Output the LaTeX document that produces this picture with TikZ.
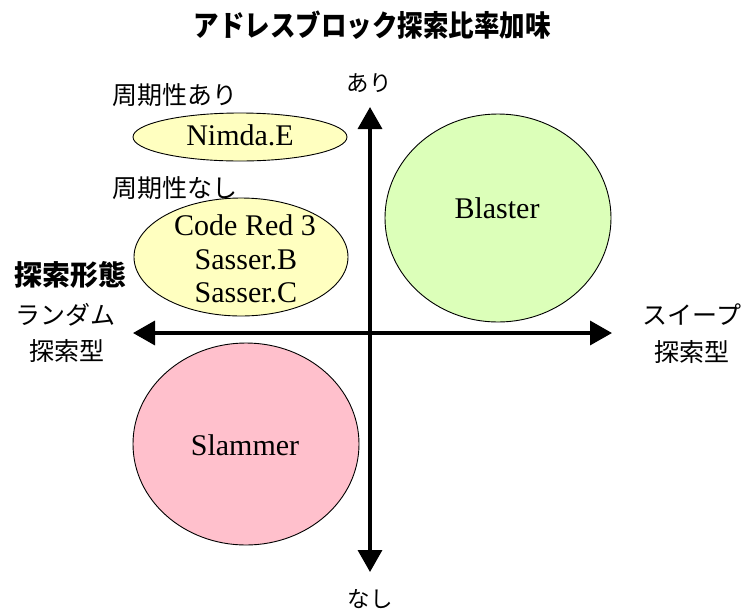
\documentclass[tikz,border=0pt]{standalone}
\usepackage{fontspec}
\setmainfont{Liberation Serif}
\newfontfamily\cjk{Noto Sans CJK JP}
\usetikzlibrary{arrows.meta,shapes.geometric}
\definecolor{wyellow}{RGB}{255,255,192}
\definecolor{wgreen}{RGB}{220,255,185}
\definecolor{wpink}{RGB}{255,192,204}
\tikzset{
  blob/.style={draw=black, line width=0.9pt, ellipse, inner sep=0pt},
  worm/.style={font=\fontsize{30}{33}\selectfont, anchor=base, inner sep=0pt},
  jlab/.style={font=\cjk\fontsize{25}{27}\selectfont, inner sep=0pt},
  jsmall/.style={font=\cjk\fontsize{22.5}{24}\selectfont, inner sep=0pt},
  jbold/.style={font=\cjk\bfseries\fontsize{28}{30}\selectfont, inner sep=0pt},
  axis/.style={line width=3.5pt, {Triangle[length=22pt,width=24pt]}-{Triangle[length=22pt,width=24pt]}}
}
\begin{document}
\begin{tikzpicture}[x=1pt,y=-1pt]
\useasboundingbox (0,0) rectangle (742,614);
% title
\node[jbold, font=\cjk\bfseries\fontsize{25.5}{27}\selectfont, yscale=1.15, transform shape] (title) at (372,25) {アドレスブロック探索比率加味};
% axes
\coordinate (top) at (370,107);
\coordinate (bot) at (370,572);
\coordinate (lft) at (133,333);
\coordinate (rgt) at (612,333);
\draw[axis] (bot) -- (top);
\draw[axis] (lft) -- (rgt);
% axis labels
\node[jsmall] (ari) at (369,83) {あり};
\node[jsmall] (nashi) at (370,599) {なし};
\node[jlab] (rand1) at (66,315) {ランダム};
\node[jlab] (rand2) at (67,351) {探索型};
\node[jlab] (sweep1) at (692,315) {スイープ};
\node[jlab] (sweep2) at (692,352) {探索型};
\node[jbold] (keitai) at (70,275) {探索形態};
\node[jlab] (per1) at (175,95) {周期性あり};
\node[jlab] (per2) at (175,188) {周期性なし};
% blobs
\node[blob, fill=wyellow, minimum width=214pt, minimum height=48pt] (nimda) at (240,137) {};
\node[blob, fill=wyellow, minimum width=214pt, minimum height=118pt] (codered) at (241,257) {};
\node[blob, fill=wgreen, minimum width=226pt, minimum height=208pt] (blaster) at (498,218) {};
\node[blob, fill=wpink, minimum width=226pt, minimum height=202pt] (slammer) at (246,444) {};
% worm names
\node[worm] (tnimda) at (240,145) {Nimda.E};
\node[worm] (tcr) at (245,235) {Code Red 3};
\node[worm] (tsb) at (246,269) {Sasser.B};
\node[worm] (tsc) at (246,302) {Sasser.C};
\node[worm] (tbl) at (497,218) {Blaster};
\node[worm] (tsl) at (245,455) {Slammer};
\end{tikzpicture}
\end{document}
